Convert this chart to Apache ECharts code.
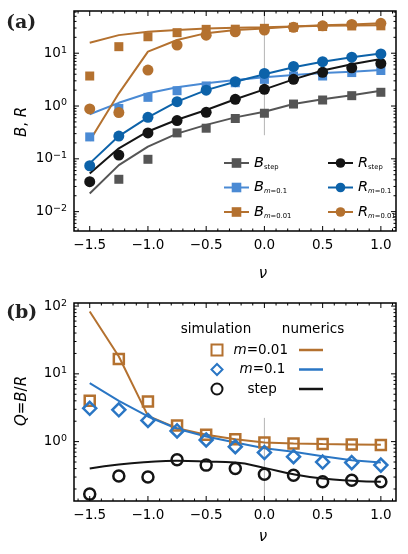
<!DOCTYPE html>
<html>
<head>
<meta charset="utf-8">
<script src="https://cdn.jsdelivr.net/npm/echarts@6/dist/echarts.min.js"></script>
<style>
  html, body { margin: 0; padding: 0; background: #fff; }
  #chart { width: 408px; height: 554px; }
</style>
</head>
<body>
<div id="chart"></div>
<script>
// shared x values (nu)
const nu = [-1.5, -1.25, -1.0, -0.75, -0.5, -0.25, 0, 0.25, 0.5, 0.75, 1.0]

// panel (a): simulation points
const bStepSim = [null, 0.041, 0.098, 0.31, 0.38, 0.58, 0.73, 1.09, 1.3, 1.57, 1.82]
const bM1Sim = [0.26, 0.9, 1.46, 1.95, 2.4, 2.76, 3.2, 3.7, 3.7, 4.3, 4.7]
const bM01Sim = [3.7, 13.3, 20.5, 24.5, 28.3, 28.5, 29.6, 31, 32, 32.8, 33]
const rStepSim = [0.037, 0.118, 0.31, 0.53, 0.76, 1.34, 2.07, 3.2, 4.35, 5.3, 6.4]
const rM1Sim = [0.074, 0.27, 0.61, 1.21, 2.0, 2.89, 4.15, 5.6, 6.9, 8.4, 9.7]
const rM01Sim = [0.88, 0.75, 4.8, 14.3, 22, 25.5, 27.5, 31, 33, 35, 36.8]

// panel (a): numerics
const bStepNum = [0.022, 0.076, 0.17, 0.30, 0.44, 0.61, 0.78, 1.09, 1.35, 1.6, 1.95]
const bM1Num = [0.7, 1.15, 1.74, 2.26, 2.7, 3.1, 3.5, 3.86, 4.2, 4.47, 4.8]
const bM01Num = [15.8, 22, 25.5, 27.5, 29.5, 30.5, 31, 32, 33, 33.5, 34]
const rStepNum = [0.053, 0.158, 0.33, 0.55, 0.84, 1.34, 2.07, 3.2, 4.7, 6.2, 7.8]
const rM1Num = [0.082, 0.27, 0.61, 1.21, 2.0, 2.89, 4.0, 5.4, 6.9, 8.4, 9.9]
const rM01Num = [0.22, 1.74, 10.7, 17.8, 24, 27.5, 29.5, 32, 34, 35, 37]

// panel (b): Q = B/R
const qM01Sim = [4.0, 16.6, 3.9, 1.73, 1.26, 1.08, 0.97, 0.94, 0.92, 0.91, 0.89]
const qM1Sim = [3.1, 2.95, 2.05, 1.44, 1.06, 0.84, 0.69, 0.6, 0.5, 0.49, 0.45]
const qStepSim = [0.168, 0.31, 0.30, 0.54, 0.45, 0.40, 0.33, 0.32, 0.255, 0.27, 0.255]
const qM01Num = [83, 18, 2.4, 1.58, 1.26, 1.08, 0.97, 0.94, 0.92, 0.91, 0.9]
const qM1Num = [7.3, 4.0, 2.35, 1.55, 1.19, 0.97, 0.8, 0.71, 0.61, 0.53, 0.49]
const qStepNum = [0.40, 0.46, 0.50, 0.52, 0.51, 0.49, 0.41, 0.33, 0.285, 0.265, 0.255]

// vertical guide at nu = 0 (y extent in data units)
const zeroLineA = [0.28, 63]
const zeroLineB = [0.133, 2.24]

// ticks
const xMajor = [-1.5, -1.0, -0.5, 0, 0.5, 1.0]
const yMajorA = [0.01, 0.1, 1, 10]
const yMajorB = [1, 10, 100]

const xMin = -1.635, xMax = 1.13
const yMinA = 0.0043, yMaxA = 63
const yMinB = 0.133, yMaxB = 111

const brown = '#b4712f'
const lightBlue = '#4a8ad4'
const blue = '#0c62a9'
const blueB = '#2a76c4'
const black = '#141414'
const gray = '#555555'
const font = 'DejaVu Sans'
const tickColor = '#000'

const xMinor = []
for (let k = -16; k <= 11; k++) {
  if (k % 5 !== 0) xMinor.push(k / 10)
}
const logMinor = (lo, hi) => {
  const out = []
  for (let e = -3; e <= 2; e++) {
    for (let k = 2; k <= 9; k++) {
      const v = +(k * Math.pow(10, e)).toPrecision(3)
      if (v > lo && v < hi) out.push(v)
    }
  }
  return out
}

const pts = (ys) => nu.map((x, i) => [x, ys[i]]).filter((p) => p[1] != null)

const xAxisFor = (g) => ({
  type: 'value', gridIndex: g, min: xMin, max: xMax, position: 'bottom',
  splitLine: { show: false }, axisLine: { show: false, onZero: false }, axisTick: { show: false },
  axisLabel: {
    customValues: xMajor, margin: 7, fontFamily: font, fontSize: 13.5, color: '#000',
    formatter: (v) => v.toFixed(1).replace('-', '\u2212')
  }
})
const yAxisFor = (g, lo, hi, major) => ({
  type: 'log', logBase: 10, gridIndex: g, min: lo, max: hi, position: 'left',
  splitLine: { show: false }, axisLine: { show: false, onZero: false }, axisTick: { show: false },
  axisLabel: {
    customValues: major, margin: 7,
    formatter: (v) => '{b|10}{s|' + String(Math.round(Math.log10(v))).replace('-', '\u2212') + '}',
    rich: {
      b: { fontFamily: font, fontSize: 13.5, color: '#000', lineHeight: 16 },
      s: { fontFamily: font, fontSize: 9.5, color: '#000', lineHeight: 6, verticalAlign: 'top' }
    }
  }
})

// inward ticks on all four sides, placed through the axis scales
const tickMarks = (g, dir, values, len, ref) => ({
  type: 'custom', xAxisIndex: g, yAxisIndex: g, silent: true, z: 6, clip: false,
  data: values.map((v) => (dir === 'x' ? [v, ref] : [ref, v])),
  renderItem: (params, api) => {
    const cs = params.coordSys
    const p = api.coord([api.value(0), api.value(1)])
    const st = { stroke: tickColor, lineWidth: 1 }
    if (dir === 'x') {
      const bot = cs.y + cs.height
      return { type: 'group', children: [
        { type: 'line', shape: { x1: p[0], y1: bot, x2: p[0], y2: bot - len }, style: st },
        { type: 'line', shape: { x1: p[0], y1: cs.y, x2: p[0], y2: cs.y + len }, style: st }
      ] }
    }
    const right = cs.x + cs.width
    return { type: 'group', children: [
      { type: 'line', shape: { x1: cs.x, y1: p[1], x2: cs.x + len, y2: p[1] }, style: st },
      { type: 'line', shape: { x1: right, y1: p[1], x2: right - len, y2: p[1] }, style: st }
    ] }
  }
})

const numLine = (name, ys, color, symbol, g, smooth) => ({
  name, type: 'line', xAxisIndex: g, yAxisIndex: g, data: pts(ys),
  color, symbol, symbolSize: 10, showSymbol: false, smooth: !!smooth,
  lineStyle: { color, width: 2 }, z: 3, silent: true
})
const simPts = (name, ys, color, symbol, size, g) => ({
  name, type: 'scatter', xAxisIndex: g, yAxisIndex: g, data: pts(ys),
  symbol, symbolSize: size, itemStyle: { color, opacity: 1 }, z: 4, silent: true
})
const openPts = (name, ys, color, symbol, size, g) => ({
  name, type: 'scatter', xAxisIndex: g, yAxisIndex: g, data: pts(ys), color,
  symbol, symbolSize: size, itemStyle: { color: 'rgba(255,255,255,0)', borderColor: color, borderWidth: 2.5, opacity: 1 },
  z: 4, silent: true
})
const guide = (vals, g) => ({
  type: 'line', xAxisIndex: g, yAxisIndex: g, data: vals.map((v) => [0, v]),
  showSymbol: false, lineStyle: { color: '#b5b5b5', width: 1 }, z: 1, silent: true
})

const legendNamesA = {
  'B step': '{i|B}{sub|step}',
  'B m0.1': '{i|B}{subi|m}{sub|=0.1}',
  'B m0.01': '{i|B}{subi|m}{sub|=0.01}',
  'R step': '{i|R}{sub|step}',
  'R m0.1': '{i|R}{subi|m}{sub|=0.1}',
  'R m0.01': '{i|R}{subi|m}{sub|=0.01}'
}
const richA = {
  i: { fontFamily: font, fontStyle: 'italic', fontSize: 14.5, color: '#000' },
  sub: { fontFamily: font, fontSize: 6.8, color: '#000', lineHeight: 9, verticalAlign: 'bottom' },
  subi: { fontFamily: font, fontStyle: 'italic', fontSize: 6.8, color: '#000', lineHeight: 9, verticalAlign: 'bottom' }
}
const legendA = (names, left) => ({
  data: names, orient: 'vertical', left, top: 155.5, padding: 0, itemGap: 9.5,
  itemWidth: 25, itemHeight: 12, selectedMode: false,
  formatter: (n) => legendNamesA[n], textStyle: { rich: richA }
})

const legendNamesB = {
  'm0.01 sim': '{p1|}{mi|m}{t|=0.01}',
  'm0.1 sim': '{p2|}{mi|m}{t|=0.1}',
  'step sim': '{p3|}{t|step}'
}
const richB = {
  t: { fontFamily: font, fontSize: 13.5, color: '#000' },
  mi: { fontFamily: font, fontStyle: 'italic', fontSize: 13.5, color: '#000' },
  p1: { width: 6 }, p2: { width: 12 }, p3: { width: 20 }
}

const gridBox = { show: true, borderColor: '#000', borderWidth: 1.5, backgroundColor: 'transparent' }

const option = {
  animation: false,
  backgroundColor: '#fff',
  grid: [
    { ...gridBox, left: 74, top: 11, width: 322, height: 220 },
    { ...gridBox, left: 74, top: 303, width: 322, height: 198 }
  ],
  xAxis: [xAxisFor(0), xAxisFor(1)],
  yAxis: [yAxisFor(0, yMinA, yMaxA, yMajorA), yAxisFor(1, yMinB, yMaxB, yMajorB)],
  legend: [
    legendA(['B step', 'B m0.1', 'B m0.01'], 223),
    legendA(['R step', 'R m0.1', 'R m0.01'], 327),
    {
      data: ['m0.01 sim', 'm0.1 sim', 'step sim'], orient: 'vertical', left: 210.5, top: 343,
      padding: 0, itemGap: 5.5, itemWidth: 11, itemHeight: 11, selectedMode: false,
      formatter: (n) => legendNamesB[n], textStyle: { rich: richB }
    },
    {
      data: ['m0.01 num', 'm0.1 num', 'step num'], orient: 'vertical', left: 299, top: 343,
      padding: 0, itemGap: 5.5, itemWidth: 24, itemHeight: 2.5, icon: 'rect', selectedMode: false,
      formatter: () => '{t| }', textStyle: { rich: richB }
    }
  ],
  graphic: [
    { type: 'text', x: 6, y: 23, style: { text: '(a)', font: 'bold 19px "DejaVu Serif"', fill: '#222', verticalAlign: 'middle' } },
    { type: 'text', x: 6, y: 313, style: { text: '(b)', font: 'bold 19px "DejaVu Serif"', fill: '#222', verticalAlign: 'middle' } },
    {
      type: 'text', x: 22, y: 122, rotation: Math.PI / 2,
      style: {
        text: '{i|B}{n|, }{i|R}', align: 'center', verticalAlign: 'middle',
        rich: { i: { fontFamily: font, fontStyle: 'italic', fontSize: 15, fill: '#000' }, n: { fontFamily: font, fontSize: 15, fill: '#000' } }
      }
    },
    {
      type: 'text', x: 22, y: 401, rotation: Math.PI / 2,
      style: {
        text: '{i|Q}{n|=}{i|B}{n|/}{i|R}', align: 'center', verticalAlign: 'middle',
        rich: { i: { fontFamily: font, fontStyle: 'italic', fontSize: 15, fill: '#000' }, n: { fontFamily: font, fontSize: 15, fill: '#000' } }
      }
    },
    { type: 'text', x: 263, y: 274, style: { text: '\u03bd', font: 'italic 15px "DejaVu Sans"', fill: '#000', align: 'center', verticalAlign: 'middle' } },
    { type: 'text', x: 263, y: 537, style: { text: '\u03bd', font: 'italic 15px "DejaVu Sans"', fill: '#000', align: 'center', verticalAlign: 'middle' } },
    { type: 'text', x: 216, y: 329, style: { text: 'simulation', font: '13.5px "DejaVu Sans"', fill: '#000', align: 'center', verticalAlign: 'middle' } },
    { type: 'text', x: 313, y: 329, style: { text: 'numerics', font: '13.5px "DejaVu Sans"', fill: '#000', align: 'center', verticalAlign: 'middle' } }
  ],
  series: [
    tickMarks(0, 'x', xMajor, 5, yMinA),
    tickMarks(0, 'x', xMinor, 2.5, yMinA),
    tickMarks(0, 'y', yMajorA, 5, xMin),
    tickMarks(0, 'y', logMinor(yMinA, yMaxA), 2.5, xMin),
    guide(zeroLineA, 0),
    numLine('B step', bStepNum, gray, 'rect', 0),
    numLine('B m0.1', bM1Num, lightBlue, 'rect', 0),
    numLine('B m0.01', bM01Num, brown, 'rect', 0),
    numLine('R step', rStepNum, black, 'circle', 0),
    numLine('R m0.1', rM1Num, blue, 'circle', 0),
    numLine('R m0.01', rM01Num, brown, 'circle', 0),
    simPts('B step pts', bStepSim, gray, 'rect', 9, 0),
    simPts('B m0.1 pts', bM1Sim, lightBlue, 'rect', 9, 0),
    simPts('B m0.01 pts', bM01Sim, brown, 'rect', 9, 0),
    simPts('R step pts', rStepSim, black, 'circle', 11, 0),
    simPts('R m0.1 pts', rM1Sim, blue, 'circle', 11, 0),
    simPts('R m0.01 pts', rM01Sim, brown, 'circle', 11, 0),

    tickMarks(1, 'x', xMajor, 5, yMinB),
    tickMarks(1, 'x', xMinor, 2.5, yMinB),
    tickMarks(1, 'y', yMajorB, 5, xMin),
    tickMarks(1, 'y', logMinor(yMinB, yMaxB), 2.5, xMin),
    guide(zeroLineB, 1),
    numLine('m0.01 num', qM01Num, brown, 'none', 1),
    numLine('m0.1 num', qM1Num, blueB, 'none', 1),
    numLine('step num', qStepNum, black, 'none', 1, true),
    openPts('m0.01 sim', qM01Sim, brown, 'rect', 10, 1),
    openPts('m0.1 sim', qM1Sim, blueB, 'diamond', 13, 1),
    openPts('step sim', qStepSim, black, 'circle', 11, 1)
  ]
}

const chart = echarts.init(document.getElementById('chart'))
chart.setOption(option)
</script>
</body>
</html>
